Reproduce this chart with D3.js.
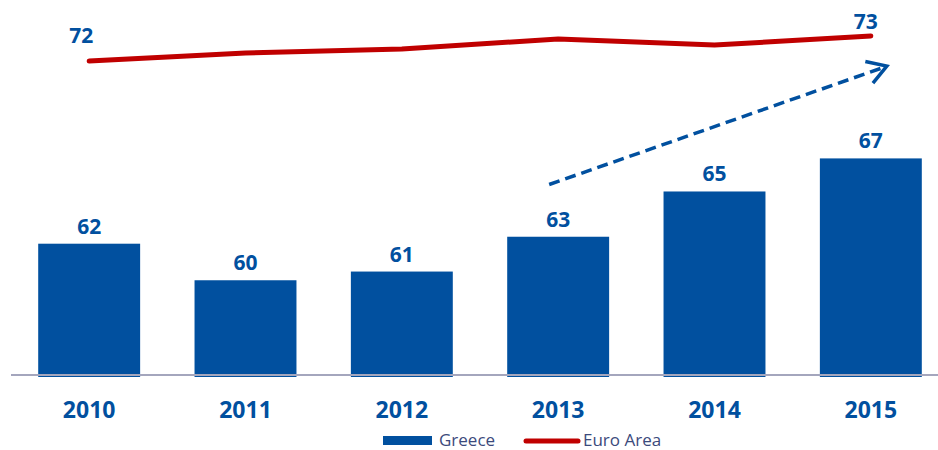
<!DOCTYPE html>
<html>
<head>
<meta charset="utf-8">
<script src="https://cdn.jsdelivr.net/npm/d3@7"></script>
<style>
  body { margin: 0; background: #fff; }
  #chart { width: 938px; height: 450px; }
</style>
</head>
<body>
<div id="chart"></div>
<script>
// data
let years = ["2010", "2011", "2012", "2013", "2014", "2015"];
let greece = [62.2, 60.1, 60.6, 62.6, 65.2, 67.1];
let euroArea = [72.0, 72.4, 72.6, 73.1, 72.8, 73.25];
let seriesNames = ["Greece", "Euro Area"];

let blue = "#01509f";
let red = "#c00000";

let width = 938, height = 450;

let svg = d3.select("#chart").append("svg")
    .attr("width", width)
    .attr("height", height)
    .style("font-family", "'Open Sans', sans-serif");

let x = d3.scaleBand()
    .domain(years)
    .range([11, 949])
    .paddingInner(0.348)
    .paddingOuter(0.174);

let y = d3.scaleLinear().domain([54.6, 76.2]).range([376, 0]);
let y2 = d3.scaleLinear().domain([60, 75]).range([301, 1]);

let cx = function(d, i) { return x(years[i]) + x.bandwidth() / 2; };

// bars
svg.append("g").selectAll("rect")
    .data(greece)
    .enter().append("rect")
    .attr("x", function(d, i) { return x(years[i]); })
    .attr("y", function(d) { return y(d); })
    .attr("width", x.bandwidth())
    .attr("height", function(d) { return y.range()[0] - y(d) + 1; })
    .attr("fill", blue);

svg.append("g").selectAll("text")
    .data(greece)
    .enter().append("text")
    .attr("x", cx)
    .attr("y", function(d) { return y(d) - 10; })
    .attr("text-anchor", "middle")
    .attr("font-size", "21px")
    .attr("font-weight", "bold")
    .attr("fill", blue)
    .text(function(d) { return Math.round(d); });

// baseline
svg.append("line")
    .attr("x1", 11).attr("x2", width)
    .attr("y1", 375).attr("y2", 375)
    .attr("stroke", "#a4a6bd")
    .attr("stroke-width", 2);

// year labels
let xAxis = svg.append("g")
    .attr("transform", "translate(0,375)")
    .call(d3.axisBottom(x).tickSize(0).tickPadding(0));
xAxis.select(".domain").remove();
xAxis.selectAll("text")
    .attr("dy", null)
    .attr("y", 43)
    .attr("font-family", "'Open Sans', sans-serif")
    .attr("font-size", "23px")
    .attr("font-weight", "bold")
    .attr("fill", blue);

// euro area line
let line = d3.line()
    .x(cx)
    .y(function(d) { return y2(d); });

svg.append("path")
    .datum(euroArea)
    .attr("d", line)
    .attr("fill", "none")
    .attr("stroke", red)
    .attr("stroke-width", 5)
    .attr("stroke-linecap", "round")
    .attr("stroke-linejoin", "round");

let last = euroArea.length - 1;
svg.append("text")
    .attr("x", cx(euroArea[0], 0) - 8)
    .attr("y", y2(euroArea[0]) - 18)
    .attr("text-anchor", "middle")
    .attr("font-size", "21px")
    .attr("font-weight", "bold")
    .attr("fill", blue)
    .text(Math.round(euroArea[0]));

svg.append("text")
    .attr("x", cx(euroArea[last], last) - 5)
    .attr("y", y2(euroArea[last]) - 7)
    .attr("text-anchor", "middle")
    .attr("font-size", "21px")
    .attr("font-weight", "bold")
    .attr("fill", blue)
    .text(Math.floor(euroArea[last]));

// dashed trend arrow
let ax1 = cx(null, 3) - 9, ay1 = y(65.6);
let ax2 = cx(null, 5) + 16, ay2 = y(72.4);
svg.append("line")
    .attr("x1", ax1).attr("y1", ay1)
    .attr("x2", ax2 - 4).attr("y2", ay2 + 1.5)
    .attr("stroke", blue)
    .attr("stroke-width", 3.5)
    .attr("stroke-dasharray", "11,6");

let ang = Math.atan2(ay2 - ay1, ax2 - ax1);
let armLen = 22, spread = 0.55;
let arm = d3.line();
svg.append("path")
    .attr("d", arm([
        [ax2 - armLen * Math.cos(ang - spread), ay2 - armLen * Math.sin(ang - spread)],
        [ax2, ay2],
        [ax2 - armLen * Math.cos(ang + spread), ay2 - armLen * Math.sin(ang + spread)]
    ]))
    .attr("fill", "none")
    .attr("stroke", blue)
    .attr("stroke-width", 3.5)
    .attr("stroke-linejoin", "miter");

// legend
let legend = svg.append("g").attr("transform", "translate(383,0)");
legend.append("rect")
    .attr("x", 0).attr("y", 436)
    .attr("width", 49).attr("height", 9)
    .attr("fill", blue);
legend.append("text")
    .attr("x", 56).attr("y", 446)
    .attr("font-size", "17px")
    .attr("fill", "#3b4a7c")
    .text(seriesNames[0]);
legend.append("line")
    .attr("x1", 143).attr("x2", 195)
    .attr("y1", 441).attr("y2", 441)
    .attr("stroke", red)
    .attr("stroke-width", 5)
    .attr("stroke-linecap", "round");
legend.append("text")
    .attr("x", 200).attr("y", 446)
    .attr("font-size", "17px")
    .attr("fill", "#3b4a7c")
    .text(seriesNames[1]);
</script>
</body>
</html>
